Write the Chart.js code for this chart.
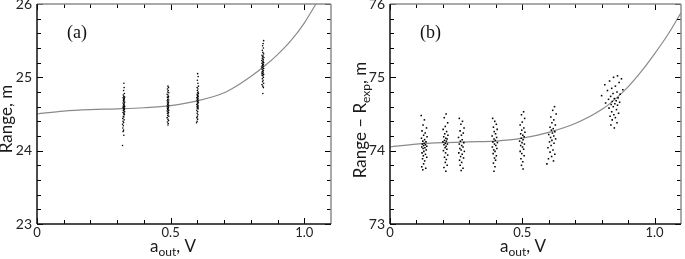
<!DOCTYPE html>
<html>
<head>
<meta charset="utf-8">
<script src="https://cdn.jsdelivr.net/npm/chart.js@4/dist/chart.umd.min.js"></script>
<style>
  body { margin: 0; background: #fff; }
  #wrap { position: relative; width: 685px; height: 259px; }
  canvas { position: absolute; top: 0; }
</style>
</head>
<body>
<div id="wrap">
  <canvas id="chartA" width="342" height="259" style="left:0"></canvas>
  <canvas id="chartB" width="342" height="259" style="left:343px"></canvas>
</div>
<script>
// tick values (major ones get labels)
const xMajor = [0, 0.5, 1.0];
const xMinor = [0.1, 0.2, 0.3, 0.4, 0.6, 0.7, 0.8, 0.9];
const yMajorA = [23, 24, 25, 26];
const yMajorB = [73, 74, 75, 76];
const yMinorA = [23.2, 23.4, 23.6, 23.8, 24.2, 24.4, 24.6, 24.8, 25.2, 25.4, 25.6, 25.8];
const yMinorB = [73.2, 73.4, 73.6, 73.8, 74.2, 74.4, 74.6, 74.8, 75.2, 75.4, 75.6, 75.8];

// fitted curves
const curveAx = [0, 0.1, 0.2, 0.3, 0.4, 0.5, 0.6, 0.7, 0.75, 0.8, 0.85, 0.9, 0.95, 1.0, 1.05];
const curveAy = [24.50, 24.54, 24.56, 24.57, 24.585, 24.615, 24.68, 24.79, 24.89, 25.01, 25.15, 25.31, 25.50, 25.74, 26.04];
const curveBx = [0, 0.1, 0.2, 0.3, 0.4, 0.5, 0.6, 0.7, 0.8, 0.85, 0.9, 0.95, 1.0, 1.05, 1.1];
const curveBy = [74.05, 74.09, 74.11, 74.12, 74.13, 74.17, 74.25, 74.37, 74.56, 74.70, 74.87, 75.08, 75.32, 75.58, 75.88];

// measured points, panel (a)
const pointsA1 = [[0.325,24.92],[0.326,24.86],[0.324,24.82],[0.327,24.78],[0.323,24.76],[0.325,24.74],[0.328,24.73],[0.322,24.72],[0.326,24.71],[0.324,24.70],[0.327,24.69],[0.323,24.68],[0.325,24.67],[0.328,24.66],[0.322,24.65],[0.326,24.64],[0.324,24.63],[0.327,24.62],[0.323,24.61],[0.325,24.60],[0.328,24.60],[0.322,24.59],[0.326,24.58],[0.324,24.57],[0.327,24.56],[0.323,24.55],[0.325,24.54],[0.328,24.53],[0.322,24.52],[0.326,24.51],[0.324,24.50],[0.327,24.49],[0.323,24.47],[0.325,24.46],[0.321,24.44],[0.326,24.42],[0.322,24.40],[0.324,24.38],[0.320,24.36],[0.323,24.34],[0.321,24.31],[0.324,24.28],[0.322,24.26],[0.325,24.21],[0.320,24.07]];
const pointsA2 = [[0.490,24.88],[0.492,24.86],[0.488,24.84],[0.491,24.82],[0.489,24.80],[0.493,24.79],[0.487,24.77],[0.490,24.76],[0.492,24.74],[0.488,24.73],[0.491,24.72],[0.489,24.70],[0.493,24.69],[0.487,24.68],[0.490,24.67],[0.492,24.66],[0.488,24.65],[0.491,24.64],[0.489,24.63],[0.493,24.62],[0.487,24.61],[0.490,24.60],[0.492,24.59],[0.488,24.58],[0.491,24.57],[0.489,24.56],[0.493,24.55],[0.487,24.54],[0.490,24.53],[0.492,24.52],[0.488,24.51],[0.491,24.50],[0.489,24.48],[0.493,24.47],[0.487,24.45],[0.490,24.43],[0.492,24.41],[0.488,24.39],[0.491,24.37],[0.490,24.35]];
const pointsA3 = [[0.601,25.05],[0.603,25.01],[0.600,24.96],[0.602,24.92],[0.604,24.88],[0.599,24.86],[0.602,24.84],[0.600,24.82],[0.603,24.80],[0.601,24.79],[0.604,24.78],[0.599,24.77],[0.602,24.76],[0.600,24.75],[0.603,24.74],[0.601,24.73],[0.598,24.72],[0.602,24.71],[0.600,24.70],[0.603,24.69],[0.599,24.68],[0.601,24.67],[0.604,24.66],[0.600,24.65],[0.602,24.64],[0.598,24.63],[0.601,24.62],[0.603,24.61],[0.599,24.60],[0.602,24.59],[0.600,24.58],[0.603,24.57],[0.598,24.55],[0.601,24.53],[0.599,24.51],[0.602,24.49],[0.600,24.47],[0.598,24.45],[0.601,24.43],[0.599,24.40],[0.597,24.38]];
const pointsA4 = [[0.848,25.50],[0.846,25.46],[0.844,25.43],[0.847,25.40],[0.843,25.37],[0.845,25.34],[0.848,25.32],[0.842,25.30],[0.846,25.29],[0.844,25.28],[0.849,25.27],[0.843,25.26],[0.845,25.25],[0.847,25.24],[0.841,25.23],[0.846,25.22],[0.844,25.21],[0.848,25.20],[0.842,25.19],[0.845,25.18],[0.847,25.17],[0.843,25.16],[0.846,25.15],[0.840,25.14],[0.844,25.13],[0.848,25.12],[0.842,25.11],[0.845,25.10],[0.847,25.09],[0.843,25.08],[0.846,25.07],[0.841,25.06],[0.844,25.05],[0.848,25.04],[0.842,25.03],[0.845,25.02],[0.847,25.00],[0.843,24.98],[0.846,24.96],[0.844,24.94],[0.848,24.92],[0.842,24.90],[0.845,24.88],[0.847,24.86],[0.845,24.78]];

// measured points, panel (b)
const pointsB1 = [[0.118,74.48],[0.130,74.42],[0.125,74.35],[0.138,74.31],[0.121,74.27],[0.133,74.24],[0.127,74.21],[0.140,74.19],[0.119,74.17],[0.131,74.15],[0.124,74.13],[0.136,74.12],[0.129,74.10],[0.122,74.09],[0.134,74.08],[0.127,74.07],[0.139,74.06],[0.120,74.05],[0.132,74.04],[0.125,74.03],[0.137,74.01],[0.128,73.99],[0.121,73.97],[0.134,73.95],[0.126,73.93],[0.139,73.91],[0.123,73.89],[0.131,73.86],[0.127,73.82],[0.120,73.78],[0.135,73.76],[0.124,73.74]];
const pointsB2 = [[0.212,74.50],[0.205,74.45],[0.218,74.38],[0.209,74.33],[0.201,74.29],[0.214,74.26],[0.207,74.23],[0.219,74.21],[0.203,74.19],[0.211,74.17],[0.216,74.16],[0.206,74.14],[0.213,74.13],[0.200,74.12],[0.209,74.10],[0.217,74.09],[0.204,74.08],[0.212,74.06],[0.208,74.04],[0.215,74.02],[0.202,74.00],[0.210,73.97],[0.218,73.94],[0.206,73.91],[0.213,73.88],[0.209,73.84],[0.216,73.80],[0.204,73.77],[0.211,73.72]];
const pointsB3 = [[0.262,74.44],[0.274,74.40],[0.268,74.36],[0.280,74.31],[0.265,74.27],[0.277,74.24],[0.270,74.21],[0.259,74.18],[0.273,74.15],[0.266,74.13],[0.279,74.11],[0.262,74.09],[0.271,74.07],[0.276,74.05],[0.264,74.03],[0.269,74.01],[0.281,73.99],[0.260,73.97],[0.273,73.95],[0.267,73.92],[0.278,73.90],[0.263,73.87],[0.271,73.84],[0.265,73.80],[0.276,73.76],[0.269,73.73]];
const pointsB4 = [[0.388,74.44],[0.396,74.40],[0.402,74.36],[0.391,74.32],[0.405,74.29],[0.394,74.26],[0.399,74.23],[0.386,74.20],[0.403,74.18],[0.393,74.16],[0.398,74.14],[0.389,74.12],[0.406,74.11],[0.395,74.09],[0.400,74.07],[0.387,74.05],[0.404,74.03],[0.392,74.01],[0.397,73.99],[0.390,73.96],[0.402,73.93],[0.395,73.90],[0.399,73.87],[0.391,73.83],[0.397,73.78],[0.393,73.72]];
const pointsB5 = [[0.505,74.53],[0.497,74.49],[0.509,74.44],[0.500,74.39],[0.492,74.35],[0.506,74.31],[0.498,74.28],[0.510,74.25],[0.494,74.23],[0.502,74.21],[0.507,74.19],[0.496,74.17],[0.503,74.15],[0.490,74.13],[0.499,74.11],[0.508,74.09],[0.494,74.07],[0.501,74.05],[0.505,74.02],[0.492,73.99],[0.498,73.96],[0.507,73.93],[0.495,73.89],[0.502,73.85],[0.497,73.80],[0.503,73.75]];
const pointsB6 = [[0.622,74.60],[0.615,74.55],[0.628,74.50],[0.608,74.46],[0.619,74.42],[0.612,74.38],[0.625,74.35],[0.605,74.32],[0.617,74.30],[0.610,74.28],[0.623,74.26],[0.614,74.24],[0.600,74.22],[0.619,74.20],[0.607,74.18],[0.626,74.16],[0.612,74.14],[0.603,74.12],[0.620,74.10],[0.609,74.07],[0.597,74.04],[0.616,74.01],[0.605,73.98],[0.623,73.95],[0.611,73.92],[0.599,73.89],[0.618,73.86],[0.593,73.82]];
const pointsB7 = [[0.860,75.02],[0.845,75.00],[0.875,74.98],[0.830,74.95],[0.866,74.93],[0.812,74.90],[0.852,74.88],[0.838,74.85],[0.880,74.83],[0.822,74.82],[0.858,74.80],[0.843,74.78],[0.870,74.77],[0.800,74.75],[0.834,74.74],[0.862,74.72],[0.848,74.71],[0.826,74.70],[0.855,74.68],[0.840,74.67],[0.868,74.66],[0.815,74.65],[0.850,74.64],[0.836,74.63],[0.860,74.62],[0.844,74.60],[0.828,74.58],[0.856,74.56],[0.838,74.53],[0.864,74.51],[0.846,74.49],[0.832,74.47],[0.852,74.45],[0.840,74.42],[0.858,74.38],[0.835,74.35],[0.848,74.31]];

const FONT = 'Lato, "Open Sans", sans-serif';

// draws text made of pieces, some of them subscripts
function drawRich(ctx, segs, x, y, rotate) {
  ctx.save();
  ctx.translate(x, y);
  if (rotate) ctx.rotate(-Math.PI / 2);
  ctx.fillStyle = '#1a1a1a';
  ctx.textBaseline = 'alphabetic';
  ctx.textAlign = 'left';
  const fontOf = s => s[1] ? '12px ' + FONT : '17px ' + FONT;
  let total = 0;
  segs.forEach(s => { ctx.font = fontOf(s); total += ctx.measureText(s[0]).width; });
  let cx = -total / 2;
  segs.forEach(s => {
    ctx.font = fontOf(s);
    ctx.fillText(s[0], cx, s[1] ? 4 : 0);
    cx += ctx.measureText(s[0]).width;
  });
  ctx.restore();
}

const frameTicks = {
  id: 'frameTicks',
  afterDatasetsDraw(chart, args, opts) {
    const { ctx, chartArea: a, scales: { x, y } } = chart;
    ctx.save();
    ctx.strokeStyle = '#000';
    ctx.lineWidth = 1;
    const line = (x1, y1, x2, y2) => { ctx.beginPath(); ctx.moveTo(x1, y1); ctx.lineTo(x2, y2); ctx.stroke(); };
    const xt = (v, len) => {
      const px = Math.round(x.getPixelForValue(v)) + 0.5;
      line(px, a.bottom, px, a.bottom - len);
      line(px, a.top, px, a.top + len);
    };
    const yt = (v, len) => {
      const py = Math.round(y.getPixelForValue(v)) + 0.5;
      line(a.left, py, a.left + len, py);
      line(a.right, py, a.right - len, py);
    };
    xMajor.forEach(v => xt(v, 6));
    xMinor.forEach(v => xt(v, 4));
    opts.yMajor.forEach(v => yt(v, 6));
    opts.yMinor.forEach(v => yt(v, 4));

    // frame: dark left/bottom, grey top/right
    ctx.lineWidth = 1.5;
    ctx.strokeStyle = '#8c8c8c';
    line(a.left, a.top, a.right, a.top);
    line(a.right, a.top, a.right, a.bottom);
    ctx.strokeStyle = '#111';
    line(a.left, a.top, a.left, a.bottom);
    line(a.left, a.bottom, a.right, a.bottom);
    ctx.restore();
  },
  afterDraw(chart, args, opts) {
    const ctx = chart.ctx;
    drawRich(ctx, opts.xTitle, opts.xTitlePos[0], opts.xTitlePos[1], false);
    drawRich(ctx, opts.yTitle, opts.yTitlePos[0], opts.yTitlePos[1], true);
    ctx.save();
    ctx.font = '18px "Liberation Serif", "Times New Roman", serif';
    ctx.fillStyle = '#111';
    ctx.fillText(opts.label, opts.labelPos[0], opts.labelPos[1]);
    ctx.restore();
  }
};

function toXY(list) {
  return list.map(p => ({ x: p[0], y: p[1] }));
}
function curve(xs, ys) {
  return xs.map((v, i) => ({ x: v, y: ys[i] }));
}

function buildChart(id, cfg) {
  const pointSet = pts => ({
    data: toXY(pts),
    showLine: false,
    pointStyle: cfg.pointStyle,
    pointRadius: cfg.pointRadius,
    pointBackgroundColor: '#000',
    pointBorderWidth: 0,
    order: 1
  });
  const datasets = [{
    data: curve(cfg.cx, cfg.cy),
    showLine: true,
    borderColor: '#8a8a8a',
    borderWidth: 1.2,
    pointRadius: 0,
    cubicInterpolationMode: 'monotone',
    order: 2
  }].concat(cfg.clusters.map(pointSet));

  return new Chart(document.getElementById(id).getContext('2d'), {
    type: 'scatter',
    data: { datasets: datasets },
    options: {
      responsive: false,
      animation: false,
      events: [],
      layout: { padding: { top: 4, right: cfg.padRight, left: 0, bottom: 0 } },
      plugins: {
        legend: { display: false },
        tooltip: { enabled: false },
        frameTicks: {
          yMajor: cfg.yMajor,
          yMinor: cfg.yMinor,
          label: cfg.label,
          labelPos: cfg.labelPos,
          xTitle: [['a', false], ['out', true], [', V', false]],
          xTitlePos: cfg.xTitlePos,
          yTitle: cfg.yTitle,
          yTitlePos: cfg.yTitlePos
        }
      },
      scales: {
        x: {
          type: 'linear',
          min: 0,
          max: 1.1,
          grid: { display: false, drawTicks: false },
          border: { display: false },
          afterBuildTicks: s => { s.ticks = xMajor.map(v => ({ value: v })); },
          afterFit: s => { s.height = 35; s.paddingLeft = 0; s.paddingRight = 0; },
          ticks: {
            padding: 1,
            maxRotation: 0,
            color: '#222',
            font: { family: FONT, size: 13 },
            callback: v => v === 0 ? '0' : v.toFixed(1)
          }
        },
        y: {
          type: 'linear',
          min: cfg.yMajor[0],
          max: cfg.yMajor[cfg.yMajor.length - 1],
          grid: { display: false, drawTicks: false },
          border: { display: false },
          afterBuildTicks: s => { s.ticks = cfg.yMajor.map(v => ({ value: v })); },
          afterFit: s => { s.width = cfg.yWidth; s.paddingTop = 0; s.paddingBottom = 0; },
          ticks: {
            padding: 5,
            color: '#222',
            font: { family: FONT, size: 14 }
          }
        }
      }
    },
    plugins: [frameTicks]
  });
}

buildChart('chartA', {
  cx: curveAx, cy: curveAy,
  clusters: [pointsA1, pointsA2, pointsA3, pointsA4],
  pointStyle: 'circle', pointRadius: 0.8,
  yMajor: yMajorA, yMinor: yMinorA,
  yWidth: 37, padRight: 11,
  label: '(a)', labelPos: [67, 38],
  xTitlePos: [173, 252],
  yTitle: [['Range, m', false]],
  yTitlePos: [12, 119]
});

buildChart('chartB', {
  cx: curveBx, cy: curveBy,
  clusters: [pointsB1, pointsB2, pointsB3, pointsB4, pointsB5, pointsB6, pointsB7],
  pointStyle: 'rect', pointRadius: 1.1,
  yMajor: yMajorB, yMinor: yMinorB,
  yWidth: 47, padRight: 1,
  label: '(b)', labelPos: [77, 38],
  xTitlePos: [180, 252],
  yTitle: [['Range \u2013 R', false], ['exp', true], [', m', false]],
  yTitlePos: [23, 120]
});
</script>
</body>
</html>
